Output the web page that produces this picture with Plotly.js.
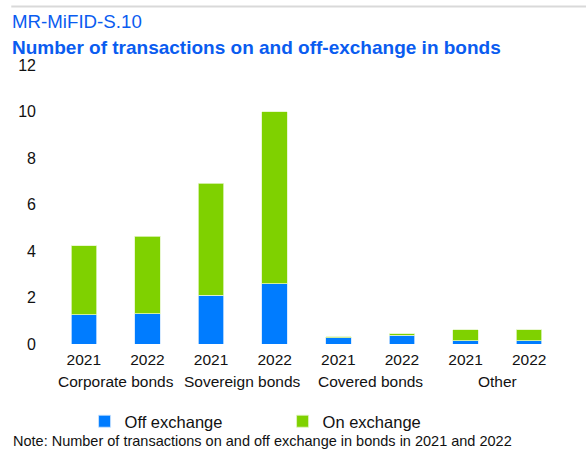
<!DOCTYPE html>
<html><head><meta charset="utf-8">
<script src="https://cdn.plot.ly/plotly-3.0.1.min.js"></script>
<style>body{margin:0;padding:0;background:#fff}#chart{width:586px;height:451px}</style>
</head><body><div id="chart"></div>
<script>
var groups = ["Corporate bonds","Corporate bonds","Sovereign bonds","Sovereign bonds","Covered bonds","Covered bonds","Other","Other"];
var years = ["2021","2022","2021","2022","2021","2022","2021","2022"];
var offExchange = [1.26,1.30,2.09,2.59,0.26,0.37,0.14,0.14];
var onExchange = [2.96,3.34,4.82,7.41,0.05,0.07,0.47,0.47];
var yTicks = [0,2,4,6,8,10,12];

var font = "Liberation Sans, Arial, sans-serif";
var keys = groups.map(function(g, i){ return g + " " + years[i]; });

var traces = [
  {type:"bar", name:"Off exchange", x:keys, y:offExchange,
   marker:{color:"#007cff", line:{color:"#cfe6ff", width:0.8}}},
  {type:"bar", name:"On exchange", x:keys, y:onExchange,
   marker:{color:"#7fd100", line:{color:"#e3f5c6", width:0.8}}}
];

// group labels centred under each group's categories
var groupAnn = [];
var seen = {};
groups.forEach(function(g, i){
  if (!(g in seen)) { seen[g] = []; }
  seen[g].push(i);
});
Object.keys(seen).forEach(function(g){
  var idx = seen[g];
  var mid = idx.reduce(function(a,b){return a+b;},0) / idx.length;
  groupAnn.push({text:g, xref:"x", yref:"paper", x:mid, y:-0.135, yanchor:"middle", xanchor:"center",
                 showarrow:false, font:{family:font, size:15.5, color:"#111"}});
});

var layout = {
  width:586, height:451,
  margin:{l:52, r:25, t:65, b:107},
  barmode:"stack", bargap:0.6,
  paper_bgcolor:"#fff", plot_bgcolor:"#fff",
  font:{family:font, size:15, color:"#111"},
  showlegend:true,
  legend:{orientation:"h", x:0.064, xanchor:"left", xref:"paper", y:-0.215, yanchor:"top",
          font:{family:font, size:16.5, color:"#111"}, entrywidth:153, entrywidthmode:"pixels", traceorder:"normal"},
  xaxis:{type:"category", tickvals:keys, ticktext:years, showline:false, ticks:"", showgrid:false,
         tickfont:{family:font, size:15.5, color:"#111"}, ticklabelstandoff:4},
  yaxis:{range:[0,12], tickvals:yTicks, showgrid:false, zeroline:false, showline:false, ticks:"",
         tickfont:{family:font, size:16, color:"#111"}, ticklabelstandoff:15},
  shapes:[{type:"line", xref:"paper", yref:"paper", x0:-0.08, x1:1.06, y0:1.21, y1:1.21,
           line:{color:"#d9d9d9", width:2}}],
  annotations:[
    {text:"MR-MiFID-S.10", xref:"paper", yref:"paper", x:-0.082, xanchor:"left", y:1.2, yanchor:"top",
     showarrow:false, font:{family:font, size:18.7, color:"#0a5cf0"}},
    {text:"<b>Number of transactions on and off-exchange in bonds</b>", xref:"paper", yref:"paper", x:-0.082, xanchor:"left", y:1.108, yanchor:"top",
     showarrow:false, font:{family:font, size:19, color:"#0a5cf0"}},
    {text:"Note: Number of transactions on and off exchange in bonds in 2021 and 2022", xref:"paper", yref:"paper", x:-0.08, xanchor:"left", y:-0.382, yanchor:"bottom",
     showarrow:false, font:{family:font, size:14.5, color:"#111"}}
  ].concat(groupAnn)
};
Plotly.newPlot("chart", traces, layout, {displayModeBar:false, staticPlot:true});
</script></body></html>
